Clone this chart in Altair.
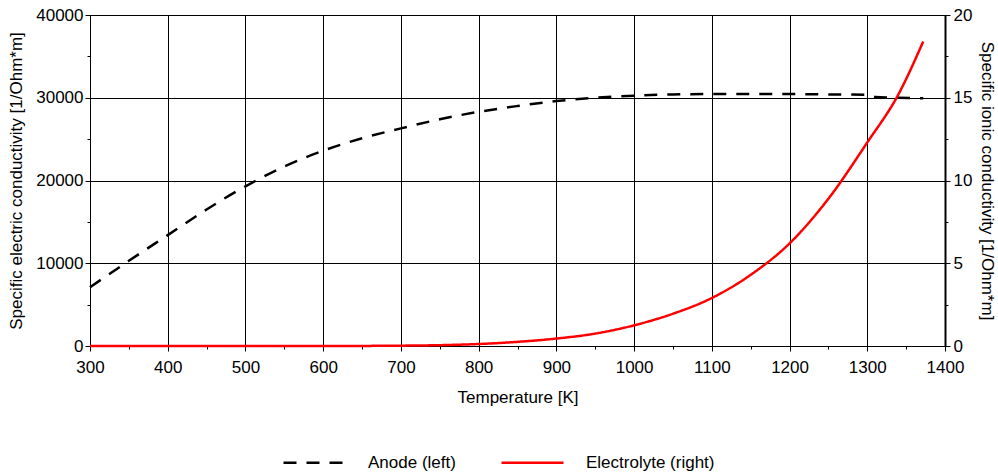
import altair as alt
import pandas as pd

# ---- data ----
anode_T = [300, 350, 400, 450, 500, 550, 600, 650, 700, 750, 800, 850, 900, 950,
           1000, 1050, 1100, 1150, 1200, 1250, 1300, 1310, 1340, 1372]
anode_sigma = [7100, 10300, 13400, 16500, 19300, 21700, 23600, 25100, 26300, 27400,
               28300, 29000, 29600, 30000, 30250, 30400, 30450, 30450, 30450, 30400,
               30350, 30100, 30000, 29950]

elec_T = [300, 400, 500, 600, 650, 700, 750, 800, 850, 900, 950, 1000, 1050, 1100,
          1150, 1200, 1250, 1300, 1340, 1372]
elec_sigma = [0, 0, 0, 0, 0.005, 0.02, 0.05, 0.12, 0.25, 0.45, 0.75, 1.25, 1.95, 2.9,
              4.3, 6.2, 8.9, 12.3, 15.2, 18.4]

series_names = ["Anode (left)", "Electrolyte (right)"]
series_colors = ["#000000", "#ff0000"]

x_ticks = list(range(300, 1401, 50))
left_ticks = list(range(0, 40001, 5000))
right_ticks = [0, 2.5, 5, 7.5, 10, 12.5, 15, 17.5, 20]

anode_df = pd.DataFrame({"T": anode_T, "v": anode_sigma, "series": series_names[0]})
elec_df = pd.DataFrame({"T": elec_T, "v": elec_sigma, "series": series_names[1]})

FONT = "Liberation Sans"
FS = 17

x_enc = alt.X(
    "T:Q",
    scale=alt.Scale(domain=[300, 1400], nice=False, zero=False),
    axis=alt.Axis(
        title="Temperature [K]",
        values=x_ticks,
        labelExpr="datum.value % 100 === 0 ? datum.label : ''",
        gridOpacity={"condition": {"test": "datum.value % 100 === 0", "value": 1}, "value": 0},
        tickSize={"condition": {"test": "datum.value % 100 === 0", "value": 5}, "value": 3},
        labelPadding=8,
        titlePadding=14,
        labelFlush=False,
        labelOverlap=False,
        format="d",
    ),
)

color_enc = alt.Color(
    "series:N",
    scale=alt.Scale(domain=series_names, range=series_colors),
    legend=alt.Legend(
        title=None,
        orient="none",
        direction="horizontal",
        legendX=192,
        legendY=415,
        symbolType="stroke",
        symbolSize=3844,
        symbolStrokeWidth=2.5,
        labelFontSize=FS,
        labelFont=FONT,
        labelColor="#000",
        labelOffset=21,
        columnPadding=40,
    ),
)
dash_enc = alt.StrokeDash(
    "series:N",
    scale=alt.Scale(domain=series_names, range=[[13, 10], [1, 0]]),
    legend=alt.Legend(title=None),
)

anode = alt.Chart(anode_df).mark_line(strokeWidth=2.5, interpolate="monotone").encode(
    x=x_enc,
    y=alt.Y(
        "v:Q",
        scale=alt.Scale(domain=[0, 40000], nice=False),
        axis=alt.Axis(
            title="Specific electric conductivity [1/Ohm*m]",
            values=left_ticks,
            labelExpr="datum.value % 10000 === 0 ? datum.label : ''",
            gridOpacity={"condition": {"test": "datum.value % 10000 === 0", "value": 1}, "value": 0},
            tickSize={"condition": {"test": "datum.value % 10000 === 0", "value": 5}, "value": 3},
            format="d",
            labelPadding=2,
            titlePadding=10,
            labelFlush=False,
            labelOverlap=False,
        ),
    ),
    color=color_enc,
    strokeDash=dash_enc,
)

elec = alt.Chart(elec_df).mark_line(strokeWidth=2.5, interpolate="monotone").encode(
    x=x_enc,
    y=alt.Y(
        "v:Q",
        scale=alt.Scale(domain=[0, 20], nice=False),
        axis=alt.Axis(
            title="Specific ionic conductivity [1/Ohm*m]",
            orient="right",
            values=right_ticks,
            labelExpr="datum.value % 5 === 0 ? datum.label : ''",
            grid=False,
            tickSize={"condition": {"test": "datum.value % 5 === 0", "value": 5}, "value": 3},
            domainWidth=2,
            labelPadding=3,
            titlePadding=6,
            labelFlush=False,
            labelOverlap=False,
        ),
    ),
    color=color_enc,
    strokeDash=dash_enc,
)

chart = (
    alt.layer(anode, elec)
    .resolve_scale(y="independent")
    .properties(
        width=855,
        height=331,
        autosize=alt.AutoSizeParams(type="none"),
        padding={"left": 90, "top": 15, "right": 53, "bottom": 129},
        background="white",
    )
    .configure_view(stroke="#000000", strokeWidth=1)
    .configure_axis(
        labelFont=FONT,
        titleFont=FONT,
        labelFontSize=FS,
        titleFontSize=FS,
        titleFontWeight="normal",
        labelColor="#000",
        titleColor="#000",
        domainColor="#000",
        tickColor="#000",
        gridColor="#000",
        gridWidth=1,
    )
)

chart.save("out.html", embed_options={"renderer": "svg", "actions": False})
